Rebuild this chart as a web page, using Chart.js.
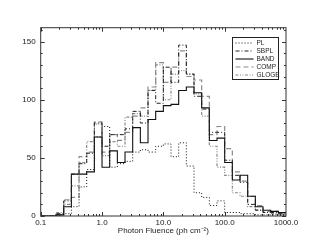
<!DOCTYPE html>
<html lang="en">
<head>
  <meta charset="UTF-8">
  <title>Photon Fluence Distribution</title>
  <script src="https://cdn.jsdelivr.net/npm/chart.js"></script>
  <style>
    body { margin: 0; background: #fff; }
  </style>
</head>
<body>

  <canvas id="fluenceChart" width="311" height="249"></canvas>

  <script>
    // histogram: 8 bins per decade, 0.1 .. 1000 ph/cm2
    const binsPerDecade = 8;
    const binEdges = [];
    for (let k = 0; k <= 32; k++) binEdges.push(Math.pow(10, -1 + k / binsPerDecade));

    const plCounts    = [0, 0, 1, 2, 8, 25, 40, 68, 77, 42, 45, 47, 55, 57, 55, 60, 62, 51, 63, 43, 20, 16, 9, 13, 3, 3, 2, 2, 1, 1, 1, 1];
    const sbplCounts  = [0, 0, 2, 13, 36, 45, 54, 80, 60, 70, 70, 75, 90, 80, 108, 97, 128, 115, 147, 122, 103, 92, 72, 72, 48, 35, 29, 10, 5, 3, 3, 2];
    const bandCounts  = [0, 0, 1, 8, 36, 36, 38, 68, 42, 56, 46, 55, 76, 63, 83, 90, 95, 96, 108, 111, 106, 93, 65, 67, 46, 31, 35, 17, 8, 5, 4, 3];
    const compCounts  = [0, 0, 1, 14, 16, 51, 55, 81, 55, 70, 65, 72, 86, 93, 111, 132, 115, 128, 142, 120, 117, 103, 70, 77, 58, 38, 30, 17, 9, 4, 4, 3];
    const glogeCounts = [0, 0, 3, 10, 26, 46, 64, 79, 52, 64, 60, 85, 88, 86, 108, 130, 100, 122, 125, 122, 105, 86, 60, 42, 35, 20, 17, 8, 5, 3, 2, 2];

    const xMajorTicks = [0.1, 1, 10, 100, 1000];
    const yMajorTicks = [0, 50, 100, 150];

    const FONT = '"Liberation Sans", Arial, Helvetica, sans-serif';

    // turn bin counts into step points (value holds until next edge)
    function toSteps(counts) {
      const pts = counts.map((c, i) => ({ x: binEdges[i], y: c }));
      pts.push({ x: binEdges[counts.length], y: counts[counts.length - 1] });
      return pts;
    }

    const series = [
      { label: 'PL',    data: plCounts,    color: '#111', dash: [1, 2],                 width: 1 },
      { label: 'SBPL',  data: sbplCounts,  color: '#222', dash: [4, 2, 1, 2],           width: 1 },
      { label: 'BAND',  data: bandCounts,  color: '#111', dash: [],                     width: 1.1 },
      { label: 'COMP',  data: compCounts,  color: '#8a8a8a', dash: [5, 3],              width: 1.2 },
      { label: 'GLOGE', data: glogeCounts, color: '#8a8a8a', dash: [3, 1.5, 1, 1.5, 1, 1.5], width: 1.2 }
    ];

    // frame, inward ticks and the boxed legend
    const framePlugin = {
      id: 'frame',
      afterDraw(chart) {
        const ctx = chart.ctx;
        const a = chart.chartArea;
        const xs = chart.scales.x, ys = chart.scales.y;
        ctx.save();
        ctx.strokeStyle = '#333';
        ctx.lineWidth = 1;
        ctx.setLineDash([]);
        ctx.strokeRect(a.left, a.top, a.right - a.left, a.bottom - a.top);

        ctx.beginPath();
        for (let e = -1; e <= 2; e++) {
          for (let m = 1; m <= 9; m++) {
            const v = m * Math.pow(10, e);
            const px = Math.round(xs.getPixelForValue(v)) + 0.5;
            const len = m === 1 ? 4 : 2;
            ctx.moveTo(px, a.bottom); ctx.lineTo(px, a.bottom - len);
            ctx.moveTo(px, a.top); ctx.lineTo(px, a.top + len);
          }
        }
        for (let v = 0; v <= 160; v += 10) {
          const py = Math.round(ys.getPixelForValue(v)) + 0.5;
          const len = v % 50 === 0 ? 4 : 2;
          ctx.moveTo(a.left, py); ctx.lineTo(a.left + len, py);
          ctx.moveTo(a.right, py); ctx.lineTo(a.right - len, py);
        }
        ctx.stroke();

        // legend
        const bx = 232.5, by = 37.5, bw = 46, bh = 42;
        ctx.fillStyle = '#fff';
        ctx.fillRect(bx, by, bw, bh);
        ctx.strokeStyle = '#222';
        ctx.strokeRect(bx, by, bw, bh);
        ctx.font = '6.5px ' + FONT;
        ctx.textBaseline = 'middle';
        series.forEach((s, i) => {
          const y = by + 5.5 + i * 8;
          ctx.beginPath();
          ctx.strokeStyle = s.color;
          ctx.lineWidth = s.width;
          ctx.setLineDash(s.dash);
          ctx.moveTo(bx + 3, y);
          ctx.lineTo(bx + 21, y);
          ctx.stroke();
          ctx.fillStyle = '#222';
          ctx.fillText(s.label, bx + 24, y);
        });
        ctx.restore();
      }
    };

    const ctx = document.getElementById('fluenceChart').getContext('2d');
    const fluenceChart = new Chart(ctx, {
      type: 'line',
      data: {
        datasets: series.map(s => ({
          label: s.label,
          data: toSteps(s.data),
          borderColor: s.color,
          borderWidth: s.width,
          borderDash: s.dash,
          stepped: true,
          pointRadius: 0,
          fill: false
        }))
      },
      options: {
        responsive: false,
        animation: false,
        layout: { padding: { left: 0, right: 25, top: 27.7, bottom: 0 } },
        plugins: {
          legend: { display: false },
          tooltip: { enabled: false }
        },
        scales: {
          x: {
            type: 'logarithmic',
            min: 0.1,
            max: 1000,
            grid: { display: false, drawTicks: false },
            border: { display: false },
            afterBuildTicks: scale => { scale.ticks = xMajorTicks.map(v => ({ value: v })); },
            afterFit: scale => { scale.height = 33; },
            ticks: {
              autoSkip: false,
              maxRotation: 0,
              padding: 2,
              color: '#222',
              font: { family: FONT, size: 8 },
              callback: v => Number(v).toFixed(1)
            },
            title: {
              display: true,
              text: 'Photon Fluence (ph cm\u207B\u00B2)',
              color: '#222',
              font: { family: FONT, size: 8 },
              padding: { top: 0, bottom: 13 }
            }
          },
          y: {
            min: 0,
            max: 162,
            grid: { display: false, drawTicks: false },
            border: { display: false },
            afterBuildTicks: scale => { scale.ticks = yMajorTicks.map(v => ({ value: v })); },
            afterFit: scale => { scale.width = 40.7; },
            ticks: {
              padding: 5,
              color: '#222',
              font: { family: FONT, size: 8 }
            }
          }
        }
      },
      plugins: [framePlugin]
    });
  </script>

</body>
</html>
